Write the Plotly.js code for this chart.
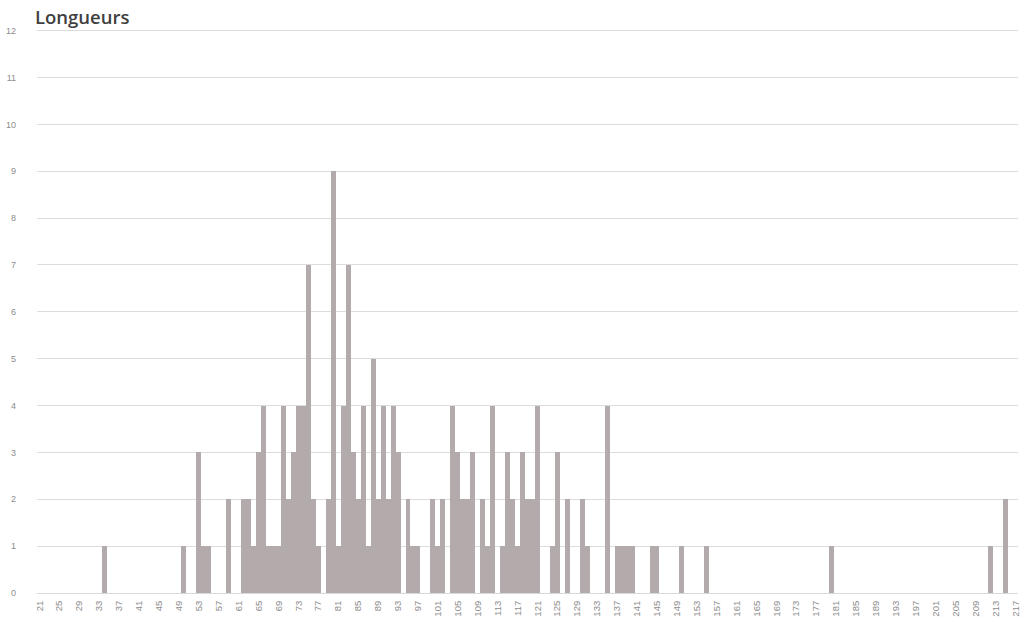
<!DOCTYPE html>
<html>
<head>
<meta charset="utf-8">
<script src="https://cdn.plot.ly/plotly-3.0.1.min.js"></script>
<style>
  html, body { margin: 0; padding: 0; background: #ffffff; }
  #chart { width: 1026px; height: 623px; }
</style>
</head>
<body>
<div id="chart"></div>
<script>
// Lengths (category) that have at least one occurrence, and their counts
const lengths = [34, 50, 53, 54, 55, 59, 62, 63, 64, 65, 66, 67, 68, 69, 70, 71, 72, 73, 74, 75,
                 76, 77, 79, 80, 81, 82, 83, 84, 85, 86, 87, 88, 89, 90, 91, 92, 93, 95, 96, 97,
                 100, 101, 102, 104, 105, 106, 107, 108, 110, 111, 112, 114, 115, 116, 117, 118, 119, 120, 121, 124,
                 125, 127, 130, 131, 135, 137, 138, 139, 140, 144, 145, 150, 155, 180, 212, 215];
const counts  = [1, 1, 3, 1, 1, 2, 2, 2, 1, 3, 4, 1, 1, 1, 4, 2, 3, 4, 4, 7,
                 2, 1, 2, 9, 1, 4, 7, 3, 2, 4, 1, 5, 2, 4, 2, 4, 3, 2, 1, 1,
                 2, 1, 2, 4, 3, 2, 2, 3, 2, 1, 4, 1, 3, 2, 1, 3, 2, 2, 4, 1,
                 3, 2, 2, 1, 4, 1, 1, 1, 1, 1, 1, 1, 1, 1, 1, 2];

const xTickVals = [21, 25, 29, 33, 37, 41, 45, 49, 53, 57, 61, 65, 69, 73, 77, 81, 85, 89, 93, 97,
                   101, 105, 109, 113, 117, 121, 125, 129, 133, 137, 141, 145, 149, 153, 157, 161, 165, 169, 173, 177,
                   181, 185, 189, 193, 197, 201, 205, 209, 213, 217];
const yTickVals = [0, 1, 2, 3, 4, 5, 6, 7, 8, 9, 10, 11, 12];

const trace = {
  type: 'bar',
  x: lengths,
  y: counts,
  width: 1,
  marker: { color: '#b3aaab', line: { width: 0 } },
  hoverinfo: 'x+y'
};

const layout = {
  width: 1026,
  height: 623,
  paper_bgcolor: '#ffffff',
  plot_bgcolor: '#ffffff',
  margin: { l: 37, r: 8, t: 26, b: 30, pad: 0 },
  bargap: 0,
  showlegend: false,
  title: {
    text: 'Longueurs',
    x: 35 / 1026, xref: 'container', xanchor: 'left',
    y: 1 - 18 / 623, yref: 'container', yanchor: 'middle',
    font: { family: 'Open Sans, Liberation Sans, sans-serif', size: 18.5, color: '#404040', weight: 600 }
  },
  xaxis: {
    type: 'linear',
    range: [20.5, 217.5],
    tickmode: 'array',
    tickvals: xTickVals,
    ticktext: xTickVals.map(String),
    tickangle: -90,
    tickfont: { family: 'Liberation Sans, Arial, sans-serif', size: 9.5, color: '#8c8c8c' },
    ticklabelstandoff: 3,
    showgrid: false,
    zeroline: false,
    showline: true,
    linecolor: '#d9d9d9',
    linewidth: 1,
    ticks: '',
    fixedrange: true
  },
  yaxis: {
    range: [0, 12.1],
    tickmode: 'array',
    tickvals: yTickVals,
    ticktext: yTickVals.map(String),
    tickfont: { family: 'Liberation Sans, Arial, sans-serif', size: 9, color: '#8c8c8c' },
    showgrid: true,
    gridcolor: '#dcdcdc',
    gridwidth: 1,
    zeroline: false,
    showline: false,
    ticks: '',
    ticklabelstandoff: 20,
    fixedrange: true
  }
};

Plotly.newPlot('chart', [trace], layout, { displayModeBar: false, staticPlot: true });
</script>
</body>
</html>
